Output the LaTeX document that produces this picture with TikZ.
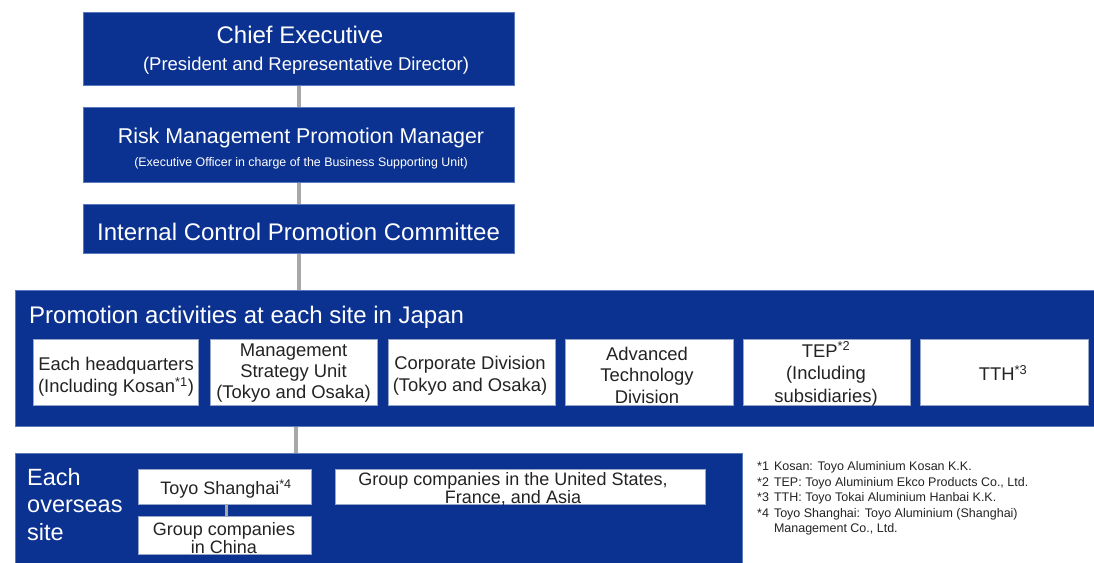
\documentclass[tikz,border=0pt]{standalone}
\usepackage{fontspec}
\setmainfont{Liberation Sans}
\definecolor{navy}{RGB}{11,50,145}
\definecolor{navyedge}{RGB}{90,120,190}
\definecolor{linkgrey}{RGB}{168,168,168}
\definecolor{textdark}{RGB}{35,35,35}
\definecolor{boxedge}{RGB}{150,165,200}
\tikzset{
  navybox/.style={fill=navy, draw=navyedge, line width=0.6pt, inner sep=0pt, anchor=north west},
  whitebox/.style={fill=white, draw=boxedge, line width=0.6pt, inner sep=0pt, anchor=north west},
  wtext/.style={text=white, inner sep=0pt},
  btext/.style={text=textdark, inner sep=0pt, align=center},
  conn/.style={draw=linkgrey, line width=3.5pt},
}
\newcommand{\fs}[2]{\fontsize{#1}{#2}\selectfont}
\begin{document}
\begin{tikzpicture}[x=1pt,y=-1pt]
\useasboundingbox (0,0) rectangle (1094,562);

% upper chain of management
\node[navybox, minimum width=431pt, minimum height=73pt] (chief) at (83,12) {};
\node[wtext, font=\fs{24}{28}] (chiefA) at (300,35) {Chief Executive};
\node[wtext, font=\fs{18.5}{22}] (chiefB) at (306,66) {(President and Representative Director)};

\node[navybox, minimum width=431pt, minimum height=75pt] (risk) at (83,107) {};
\node[wtext, font=\fs{21.4}{25}] (riskA) at (301,138) {Risk Management Promotion Manager};
\node[wtext, font=\fs{12.4}{15}] (riskB) at (301,163) {(Executive Officer in charge of the Business Supporting Unit)};

\node[navybox, minimum width=431pt, minimum height=49pt] (icpc) at (83,204) {};
\node[wtext, font=\fs{24}{28}] (icpcA) at (298.5,232) {Internal Control Promotion Committee};

% domestic sites
\node[navybox, minimum width=1079pt, minimum height=136pt] (japan) at (15,290) {};
\node[wtext, anchor=west, font=\fs{24}{28}] (japanT) at (29,317) {Promotion activities at each site in Japan};

\node[whitebox, minimum width=165pt, minimum height=66pt] (hq) at (33,339) {};
\node[btext, font=\fs{18.4}{22}] (hqT) at (116,377) {Each headquarters\\(Including Kosan\textsuperscript{*1})};
\node[whitebox, minimum width=167pt, minimum height=66pt] (msu) at (210,339) {};
\node[btext, font=\fs{18.4}{21}] (msuT) at (293.5,373) {Management\\Strategy Unit\\(Tokyo and Osaka)};
\node[whitebox, minimum width=167pt, minimum height=66pt] (corp) at (388,339) {};
\node[btext, font=\fs{18.4}{22}] (corpT) at (470,376) {Corporate Division\\(Tokyo and Osaka)};
\node[whitebox, minimum width=168pt, minimum height=66pt] (adv) at (565,339) {};
\node[btext, font=\fs{18.4}{21.5}] (advT) at (647,375) {Advanced\\Technology\\Division};
\node[whitebox, minimum width=167pt, minimum height=66pt] (tep) at (743,339) {};
\node[btext, font=\fs{18.4}{22.5}] (tepT) at (826,374) {TEP\textsuperscript{*2}\\(Including\\subsidiaries)};
\node[whitebox, minimum width=168pt, minimum height=66pt] (tth) at (920,339) {};
\node[btext, font=\fs{18.4}{22}] (tthT) at (1003,373) {TTH\textsuperscript{*3}};

% overseas sites
\node[navybox, minimum width=727pt, minimum height=112pt] (overseas) at (15,453) {};
\node[wtext, anchor=north west, align=left, font=\fs{23.5}{27.5}] (overT) at (27,468) {Each\\overseas\\site};

\node[whitebox, minimum width=173pt, minimum height=35pt] (shanghai) at (138,469) {};
\node[btext, font=\fs{18}{21}] (shanghaiT) at (226,489) {Toyo Shanghai\textsuperscript{*4}};
\node[whitebox, minimum width=173pt, minimum height=38pt] (china) at (138,516) {};
\node[btext, font=\fs{18}{18.5}] (chinaT) at (224,538) {Group companies\\in China};
\node[whitebox, minimum width=370pt, minimum height=35pt] (grp) at (335,469) {};
\node[btext, font=\fs{18}{18.5}] (grpT) at (513,489) {Group companies in the United States,\\France, and Asia};

% connectors
\draw[conn] (chief.south) -- (risk.north);
\draw[conn] (risk.south) -- (icpc.north);
\draw[conn] (icpc.south) -- (icpc.south |- japan.north);
\draw[conn] (japan.south -| 296,0) coordinate (jdown) -- (overseas.north -| jdown);
\draw[draw=linkgrey, line width=3pt] (shanghai.south -| 226,0) coordinate (sdown) -- (china.north -| sdown);

% footnotes
\node[text=textdark, anchor=north west, inner sep=0pt, align=left, font=\fs{12.5}{15.4}] (notes) at (757,460)
  {\begin{tabular}{@{}l@{\hspace{5pt}}l@{}}
   {*}1 & Kosan: Toyo Aluminium Kosan K.K.\\
   {*}2 & TEP: Toyo Aluminium Ekco Products Co., Ltd.\\
   {*}3 & TTH: Toyo Tokai Aluminium Hanbai K.K.\\
   {*}4 & Toyo Shanghai: Toyo Aluminium (Shanghai)\\
      & Management Co., Ltd.
  \end{tabular}};
\end{tikzpicture}
\end{document}
